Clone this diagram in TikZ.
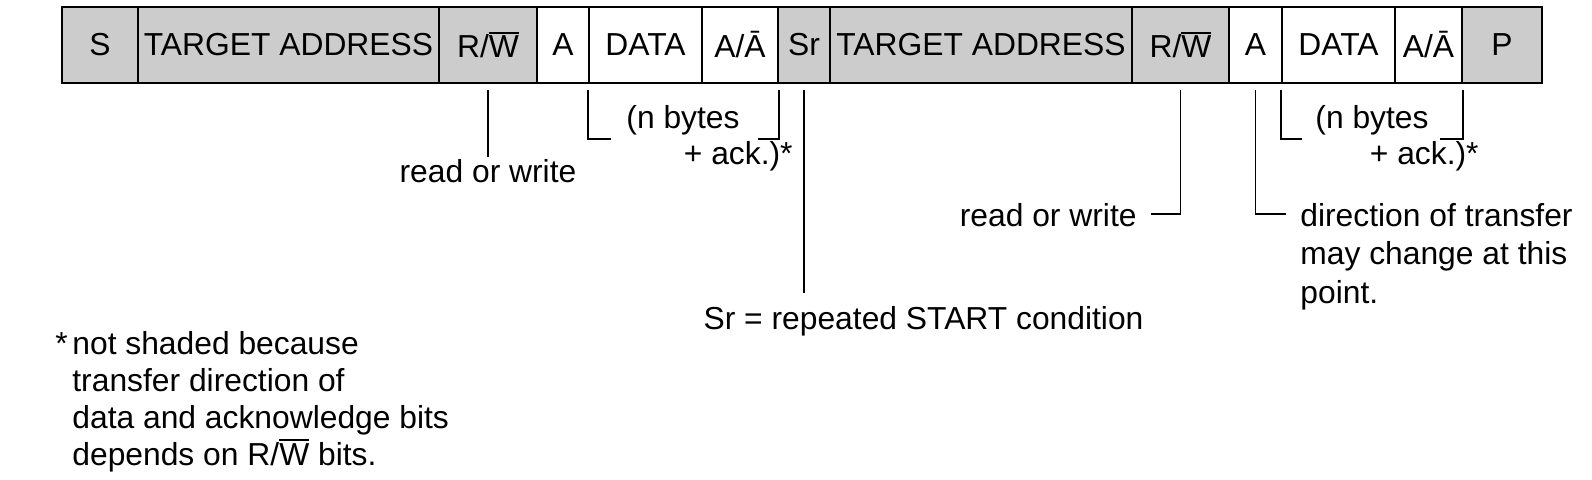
\documentclass[tikz,border=0pt]{standalone}
\usepackage{fontspec}
\setmainfont{Liberation Sans}
\definecolor{boxgray}{RGB}{204,204,204}
\newsavebox\wbox
\newcommand{\ovW}{\sbox\wbox{W}\rlap{\rule[\dimexpr\ht\wbox+0.9pt\relax]{\wd\wbox}{1pt}}W}
\tikzset{
  cell/.style={draw=black, line width=1pt, minimum height=38pt, inner sep=0pt, anchor=center},
  shaded/.style={cell, fill=boxgray},
  plain/.style={cell, fill=white},
  lead/.style={line width=0.6pt, line cap=butt},
  lbl/.style={inner sep=0pt, anchor=base},
  lblw/.style={inner sep=0pt, anchor=base west},
  lble/.style={inner sep=0pt, anchor=base east}
}
\begin{document}
\begin{tikzpicture}[x=0.5pt,y=-0.5pt, font=\fontsize{15.9}{19}\selectfont]
\useasboundingbox (0,0) rectangle (1592,479);
% frame cells
\node[shaded, minimum width=38pt]   (s)   at (100,45)    {S};
\node[shaded, minimum width=150.5pt] (ta1) at (288.5,45) {TARGET ADDRESS};
\node[shaded, minimum width=49pt]   (rw1) at (488,45)    {R/\ovW};
\node[plain,  minimum width=26pt]   (a1)  at (563,45)    {A};
\node[plain,  minimum width=56.5pt] (d1)  at (645.5,45)  {DATA};
\node[plain,  minimum width=38pt]   (aa1) at (740,45)    {A/Ā};
\node[shaded, minimum width=26pt]   (sr)  at (804,45)    {Sr};
\node[shaded, minimum width=151pt]  (ta2) at (981,45)    {TARGET ADDRESS};
\node[shaded, minimum width=48.5pt] (rw2) at (1180.5,45) {R/\ovW};
\node[plain,  minimum width=26.5pt] (a2)  at (1255.5,45) {A};
\node[plain,  minimum width=56.5pt] (d2)  at (1338.5,45) {DATA};
\node[plain,  minimum width=33.5pt] (aa2) at (1428.5,45) {A/Ā};
\node[shaded, minimum width=40pt]   (p)   at (1502,45)   {P};
% levels
\coordinate (top) at (0,90);
\coordinate (brk) at (0,139);
\coordinate (lvl1) at (0,157);
\coordinate (lvl2) at (0,214);
\coordinate (srend) at (0,293);
% labels
\node[lbl]  (rwl1) at (488,182)  {read or write};
\node[lbl]  (nb1)  at (683,128)  {(n bytes};
\node[lble] (ack1) at (793,164)  {+ ack.)*};
\node[lbl]  (nb2)  at (1372,128) {(n bytes};
\node[lble] (ack2) at (1479,164) {+ ack.)*};
\node[lble] (rwl2) at (1137,226) {read or write};
\node[lblw] (dir1) at (1300,226) {direction of transfer};
\node[lblw] (dir2) at (1300,264.5) {may change at this};
\node[lblw] (dir3) at (1300,303) {point.};
\node[lbl]  (srt)  at (923.5,329) {Sr = repeated START condition};
\node[lblw] (ast)  at (55,354)  {*};
\node[lblw] (fn1)  at (72,354)  {not shaded because};
\node[lblw] (fn2)  at (72,391)  {transfer direction of};
\node[lblw] (fn3)  at (72,428)  {data and acknowledge bits};
\node[lblw] (fn4)  at (72,465)  {depends on R/\ovW{} bits.};
% leaders
\draw[lead] (rw1.south |- top) -- (rw1.south |- lvl1);
\draw[lead] (d1.south west |- top) -- (d1.south west |- brk) -- ++(23,0);
\draw[lead] (aa1.south east |- top) -- (aa1.south east |- brk) -- ++(-21,0);
\draw[lead] (sr.south |- top) -- (sr.south |- srend);
\draw[lead] (rw2.south |- top) -- (rw2.south |- lvl2) -- ++(-30,0);
\draw[lead] (a2.south |- top) -- (a2.south |- lvl2) -- ++(30,0);
\draw[lead] (d2.south west |- top) -- (d2.south west |- brk) -- ++(21,0);
\draw[lead] (aa2.south east |- top) -- (aa2.south east |- brk) -- ++(-23,0);
\end{tikzpicture}
\end{document}
